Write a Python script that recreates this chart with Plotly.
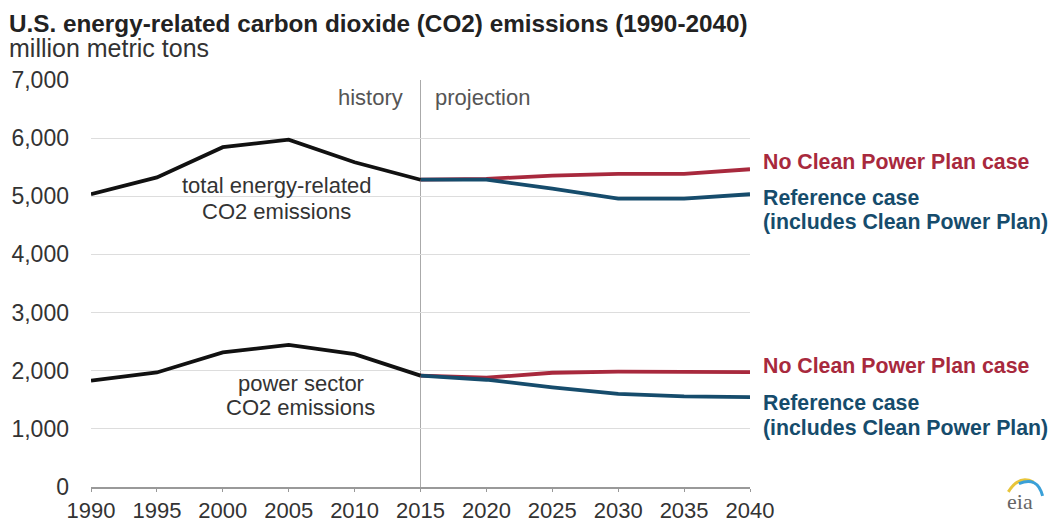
import plotly.graph_objects as go

years_hist = [1990, 1995, 2000, 2005, 2010, 2015]
years_proj = [2015, 2020, 2025, 2030, 2035, 2040]

total_hist = [5035, 5325, 5845, 5975, 5585, 5285]
total_nocpp = [5285, 5300, 5355, 5385, 5385, 5465]
total_ref = [5285, 5285, 5130, 4960, 4960, 5035]

power_hist = [1830, 1970, 2315, 2445, 2285, 1915]
power_nocpp = [1915, 1880, 1965, 1985, 1980, 1975]
power_ref = [1915, 1845, 1715, 1600, 1560, 1545]

y_ticks = [0, 1000, 2000, 3000, 4000, 5000, 6000, 7000]
x_ticks = [1990, 1995, 2000, 2005, 2010, 2015, 2020, 2025, 2030, 2035, 2040]

BLACK = "#111111"
RED = "#a8293d"
BLUE = "#164c6c"
TXT = "#333333"
FONT = "Liberation Sans"

fig = go.Figure()

def add_line(x, y, color):
    fig.add_trace(go.Scatter(x=x, y=y, mode="lines",
                             line=dict(color=color, width=3.8),
                             hoverinfo="skip", showlegend=False))

add_line(years_proj, total_nocpp, RED)
add_line(years_proj, total_ref, BLUE)
add_line(years_proj, power_nocpp, RED)
add_line(years_proj, power_ref, BLUE)
add_line(years_hist, total_hist, BLACK)
add_line(years_hist, power_hist, BLACK)

fig.add_shape(type="line", xref="x", yref="y", x0=2015, x1=2015, y0=0, y1=7000,
              line=dict(color="#aaaaaa", width=1), layer="below")

ann = []
ann.append(dict(text="<b>U.S. energy-related carbon dioxide (CO2) emissions (1990-2040)</b>",
                xref="paper", yref="paper", x=0, y=1, xshift=-83, yshift=57,
                xanchor="left", yanchor="middle", showarrow=False, borderpad=0,
                font=dict(size=24.3, color="#222222", family=FONT)))
ann.append(dict(text="million metric tons",
                xref="paper", yref="paper", x=0, y=1, xshift=-83, yshift=32,
                xanchor="left", yanchor="middle", showarrow=False, borderpad=0,
                font=dict(size=25, color=TXT, family=FONT)))
ann.append(dict(text="history", xref="x", yref="y", x=2015, y=7000, xshift=-16, yshift=-17,
                xanchor="right", yanchor="middle", showarrow=False,
                font=dict(size=22, color="#555555", family=FONT)))
ann.append(dict(text="projection", xref="x", yref="y", x=2015, y=7000, xshift=12, yshift=-17,
                xanchor="left", yanchor="middle", showarrow=False,
                font=dict(size=22, color="#555555", family=FONT)))

def center_label(text, x, y):
    ann.append(dict(text=text, xref="x", yref="y", x=x, y=y,
                    xanchor="center", yanchor="middle", showarrow=False,
                    font=dict(size=22, color=TXT, family=FONT)))

center_label("total energy-related", 2004.1, 5177)
center_label("CO2 emissions", 2004.1, 4730)
center_label("power sector", 2005.9, 1772)
center_label("CO2 emissions", 2005.9, 1359)

def right_label(text, y, color):
    ann.append(dict(text="<b>" + text + "</b>", xref="paper", yref="y", x=1, y=y, xshift=11,
                    xanchor="left", yanchor="middle", align="left", showarrow=False,
                    font=dict(size=21.3, color=color, family=FONT)))

right_label("No Clean Power Plan case", 5590, RED)
right_label("Reference case", 4971, BLUE)
right_label("(includes Clean Power Plan)", 4558, BLUE)
right_label("No Clean Power Plan case", 2081, RED)
right_label("Reference case", 1445, BLUE)
right_label("(includes Clean Power Plan)", 1015, BLUE)

ann.append(dict(text="eia", xref="paper", yref="paper", x=1, y=0, xshift=270, yshift=-14,
                xanchor="center", yanchor="middle", showarrow=False,
                font=dict(size=22, color="#666666", family="Liberation Serif")))

fig.update_layout(
    width=1052, height=516,
    margin=dict(l=83, r=310, t=72, b=37),
    paper_bgcolor="white", plot_bgcolor="white",
    annotations=ann,
    xaxis=dict(range=[1990, 2040], tickvals=x_ticks, ticktext=[str(v) for v in x_ticks],
               showgrid=False, zeroline=False, showline=True, linecolor="#999999", linewidth=1.5,
               ticks="outside", ticklen=3, tickcolor="#999999", automargin=False,
               tickfont=dict(size=22, color=TXT, family=FONT)),
    yaxis=dict(range=[0, 7000], tickvals=y_ticks, tickformat=",", showgrid=True,
               gridcolor="#dddddd", gridwidth=1, zeroline=False, showline=False,
               ticks="", ticklabelstandoff=21, automargin=False,
               tickfont=dict(size=23, color=TXT, family=FONT)),
)

# eia logo arcs
fig.add_shape(type="path", xref="paper", yref="paper",
              path="M 1.392 -0.012 Q 1.408 0.030 1.430 0.012",
              line=dict(color="#e8c53a", width=3))
fig.add_shape(type="path", xref="paper", yref="paper",
              path="M 1.408 0.008 Q 1.436 0.028 1.444 -0.022",
              line=dict(color="#3aa0d8", width=3))

fig.write_html("out.html")
